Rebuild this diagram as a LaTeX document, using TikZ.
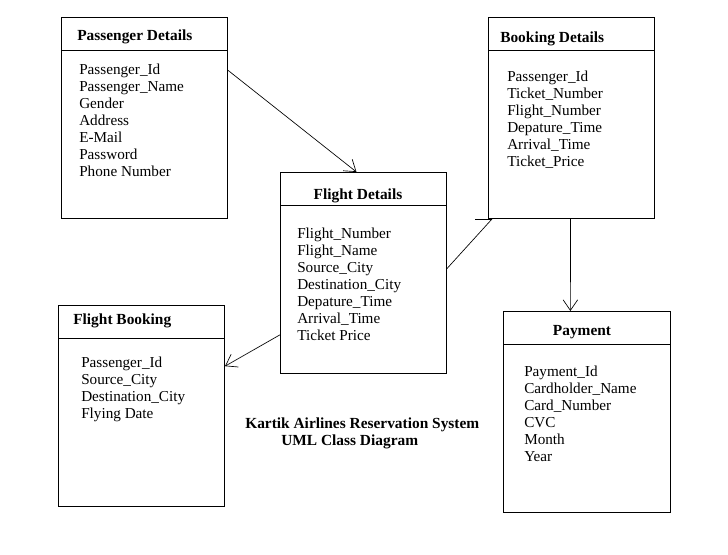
\documentclass[tikz,border=0pt]{standalone}
\usepackage{fontspec}
\setmainfont{Liberation Serif}
\usetikzlibrary{calc,arrows.meta}
\begin{document}
\begin{tikzpicture}[x=0.75pt,y=-0.75pt,
  box/.style={draw,line width=0.75pt,minimum width=124.5pt,minimum height=150.75pt,inner sep=0pt,anchor=north west},
  divider/.style={line width=0.75pt},
  ttl/.style={font=\fontsize{11.55pt}{12.75pt}\selectfont\bfseries,inner sep=0pt},
  attr/.style={font=\fontsize{11.4pt}{12.75pt}\selectfont,inner sep=0pt,anchor=base west},
  conn/.style={line width=0.5pt},
  arr/.style={conn,-{Straight Barb[length=8pt,width=11pt]}}]
\useasboundingbox[fill=white] (0,0) rectangle (728,555);
% boxes
\node[box] (pd) at (61,17) {};
\node[box] (bd) at (488,17) {};
\node[box] (fd) at (280,172) {};
\node[box] (fb) at (58,305) {};
\node[box,minimum width=125.25pt] (pay) at (503,311) {};
% dividers
\draw[divider] ($(pd.north west)+(0,34)$) -- ($(pd.north east)+(0,34)$);
\draw[divider] ($(bd.north west)+(0,34)$) -- ($(bd.north east)+(0,34)$);
\draw[divider] ($(fd.north west)+(0,34)$) -- ($(fd.north east)+(0,34)$);
\draw[divider] ($(fb.north west)+(0,34)$) -- ($(fb.north east)+(0,34)$);
\draw[divider] ($(pay.north west)+(0,34)$) -- ($(pay.north east)+(0,34)$);
% titles
\node[ttl,anchor=base west] (pdt) at (77,41) {Passenger Details};
\node[ttl,anchor=base west] (bdt) at (500,43) {Booking Details};
\node[ttl,anchor=base] (fdt) at (358,200) {Flight Details};
\node[ttl,anchor=base west] (fbt) at (73,325) {Flight Booking};
\node[ttl,anchor=base] (payt) at (582,336) {Payment};
% attributes
\foreach \t [count=\i] in {Passenger\_Id,Passenger\_Name,Gender,Address,E-Mail,Password,Phone Number}
  \node[attr] (pda\i) at (79,{75+(\i-1)*17}) {\t};
\foreach \t [count=\i] in {Passenger\_Id,Ticket\_Number,Flight\_Number,Depature\_Time,Arrival\_Time,Ticket\_Price}
  \node[attr] (bda\i) at (507,{82+(\i-1)*17}) {\t};
\foreach \t [count=\i] in {Flight\_Number,Flight\_Name,Source\_City,Destination\_City,Depature\_Time,Arrival\_Time,Ticket Price}
  \node[attr] (fda\i) at (297,{239+(\i-1)*17}) {\t};
\foreach \t [count=\i] in {Passenger\_Id,Source\_City,Destination\_City,Flying Date}
  \node[attr] (fba\i) at (81,{368+(\i-1)*17}) {\t};
\foreach \t [count=\i] in {Payment\_Id,Cardholder\_Name,Card\_Number,CVC,Month,Year}
  \node[attr] (paya\i) at (524,{377+(\i-1)*17}) {\t};
% caption
\node[ttl,anchor=base west] (cap1) at (245,429) {Kartik Airlines Reservation System};
\node[ttl,anchor=base west] (cap2) at (281,446) {UML Class Diagram};
% connectors
\draw[arr] ($(pd.north east)!0.264!(pd.south east)$) -- ($(fd.north west)!0.458!(fd.north east)$);
\draw[conn] ($(fd.north east)!0.478!(fd.south east)$) -- ($(bd.south west)!0.024!(bd.south east)$);
\draw[conn] ($(bd.south west)+(-13,0)$) -- ($(bd.south west)+(4,0)$);
\draw[arr] ($(fd.north west)!0.806!(fd.south west)$) -- ($(fb.north east)!0.303!(fb.south east)$);
\draw[arr] ($(bd.south west)!0.494!(bd.south east)$) -- ($(pay.north west)!0.401!(pay.north east)$);
\end{tikzpicture}
\end{document}
